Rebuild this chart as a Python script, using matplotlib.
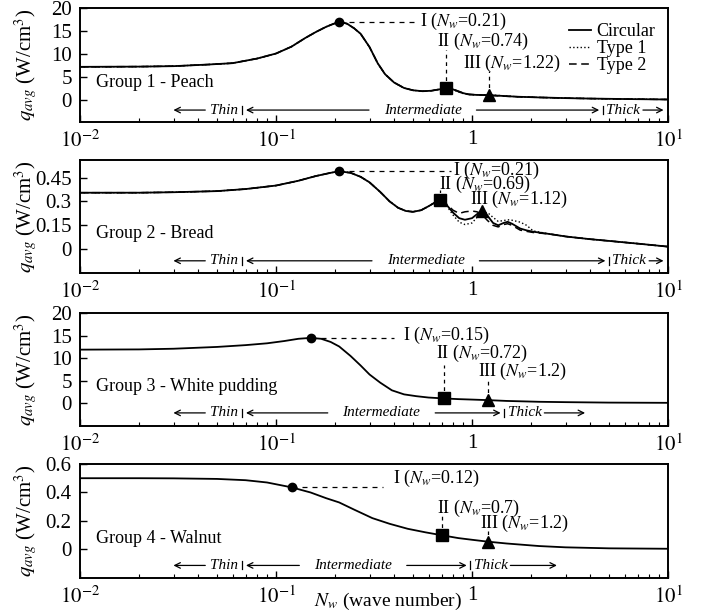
import numpy as np
import matplotlib
matplotlib.use("Agg")
import matplotlib.pyplot as plt

plt.rcParams['font.family'] = ['Liberation Serif', 'DejaVu Serif']
plt.rcParams['mathtext.fontset'] = 'stix'

# ---- data ----
# Group 1 - Peach
n1 = [0.01, 0.02, 0.03, 0.045, 0.06, 0.08, 0.1, 0.12, 0.14, 0.16, 0.18, 0.195, 0.21, 0.23, 0.25, 0.27,
      0.30, 0.33, 0.36, 0.40, 0.45, 0.50, 0.56, 0.62, 0.68, 0.74, 0.80, 0.88, 0.96, 1.05, 1.22, 1.4,
      1.7, 2.2, 3, 4, 6, 10]
q1_circ = [7.2, 7.25, 7.35, 7.7, 8.0, 9.0, 10.1, 11.6, 13.4, 14.8, 15.9, 16.5, 17.0, 16.6, 15.6, 14.4,
           11.5, 8.0, 5.6, 3.8, 2.6, 2.1, 1.9, 2.0, 2.3, 2.5, 2.3, 1.6, 1.2, 1.1, 1.05, 0.9,
           0.7, 0.55, 0.4, 0.3, 0.2, 0.1]
q1_t1 = [7.2, 7.25, 7.35, 7.7, 8.0, 9.0, 10.1, 11.6, 13.4, 14.8, 15.9, 16.5, 17.0, 16.6, 15.6, 14.4,
         11.5, 8.0, 5.6, 3.8, 2.6, 2.1, 1.9, 2.0, 2.3, 2.5, 2.25, 1.5, 1.15, 1.15, 1.1, 0.95,
         0.7, 0.55, 0.4, 0.3, 0.2, 0.1]
q1_t2 = [7.2, 7.25, 7.35, 7.7, 8.0, 9.0, 10.1, 11.6, 13.4, 14.8, 15.9, 16.5, 17.0, 16.6, 15.6, 14.4,
         11.5, 8.0, 5.6, 3.8, 2.6, 2.1, 1.9, 2.0, 2.3, 2.5, 2.35, 1.7, 1.25, 1.1, 1.0, 0.85,
         0.7, 0.55, 0.4, 0.3, 0.2, 0.1]

# Group 2 - Bread
n2 = [0.01, 0.02, 0.03, 0.05, 0.07, 0.1, 0.13, 0.16, 0.19, 0.21, 0.24, 0.27, 0.30, 0.34, 0.38, 0.42,
      0.46, 0.50, 0.55, 0.60, 0.65, 0.69, 0.74, 0.80, 0.86, 0.92, 1.0, 1.06, 1.12, 1.2, 1.28, 1.36,
      1.45, 1.52, 1.6, 1.76, 1.9, 2.05, 2.5, 3, 4, 5, 7, 10]
q2_circ = [0.355, 0.355, 0.358, 0.365, 0.378, 0.40, 0.43, 0.46, 0.48, 0.49, 0.48, 0.455, 0.42, 0.36, 0.30, 0.26,
           0.24, 0.235, 0.245, 0.27, 0.295, 0.31, 0.28, 0.23, 0.195, 0.185, 0.195, 0.22, 0.24, 0.21, 0.165, 0.15,
           0.165, 0.172, 0.16, 0.13, 0.118, 0.11, 0.095, 0.08, 0.063, 0.052, 0.035, 0.016]
q2_t1 = [0.355, 0.355, 0.358, 0.365, 0.378, 0.40, 0.43, 0.46, 0.48, 0.49, 0.48, 0.455, 0.42, 0.36, 0.30, 0.26,
         0.24, 0.235, 0.245, 0.27, 0.295, 0.31, 0.275, 0.215, 0.17, 0.155, 0.165, 0.20, 0.225, 0.23, 0.20, 0.175,
         0.18, 0.185, 0.182, 0.17, 0.15, 0.115, 0.095, 0.08, 0.063, 0.052, 0.035, 0.016]
q2_t2 = [0.355, 0.355, 0.358, 0.365, 0.378, 0.40, 0.43, 0.46, 0.48, 0.49, 0.48, 0.455, 0.42, 0.36, 0.30, 0.26,
         0.24, 0.235, 0.245, 0.27, 0.295, 0.31, 0.285, 0.245, 0.225, 0.235, 0.24, 0.235, 0.22, 0.18, 0.15, 0.14,
         0.155, 0.16, 0.15, 0.12, 0.112, 0.105, 0.095, 0.08, 0.063, 0.052, 0.035, 0.016]

# Group 3 - White pudding
n3 = [0.01, 0.02, 0.03, 0.05, 0.07, 0.09, 0.11, 0.13, 0.15, 0.17, 0.19, 0.21, 0.24, 0.27, 0.30, 0.34,
      0.39, 0.45, 0.52, 0.6, 0.72, 0.85, 1.0, 1.2, 1.5, 2.2, 3, 5, 10]
q3_circ = [11.9, 11.95, 12.1, 12.5, 12.9, 13.3, 13.8, 14.3, 14.5, 14.3, 13.6, 12.6, 10.5, 8.4, 6.4, 4.6,
           2.9, 2.0, 1.6, 1.3, 1.1, 0.95, 0.85, 0.73, 0.55, 0.36, 0.28, 0.18, 0.13]

# Group 4 - Walnut
n4 = [0.01, 0.02, 0.03, 0.05, 0.07, 0.09, 0.12, 0.15, 0.18, 0.21, 0.25, 0.31, 0.38, 0.47, 0.58, 0.7,
      0.85, 1.0, 1.2, 1.5, 2.2, 3, 5, 10]
q4_circ = [0.50, 0.50, 0.499, 0.495, 0.486, 0.47, 0.436, 0.40, 0.36, 0.33, 0.28, 0.22, 0.18, 0.145, 0.12, 0.10,
           0.08, 0.068, 0.055, 0.042, 0.024, 0.015, 0.008, 0.005]

titles = ['Group 1 - Peach', 'Group 2 - Bread', 'Group 3 - White pudding', 'Group 4 - Walnut']
# critical points I, II, III
pts_n = [[0.21, 0.74, 1.22], [0.21, 0.69, 1.12], [0.15, 0.72, 1.2], [0.12, 0.7, 1.2]]
pts_q = [[17.0, 2.5, 1.05], [0.49, 0.31, 0.24], [14.5, 1.1, 0.73], [0.436, 0.10, 0.055]]
pts_lbl = [['0.21', '0.74', '1.22'], ['0.21', '0.69', '1.12'], ['0.15', '0.72', '1.2'], ['0.12', '0.7', '1.2']]

# ---- layout ----
fig = plt.figure(figsize=(7.02, 6.15), dpi=100)
boxes = [[0.114, 0.8016, 0.8376, 0.1854],
         [0.114, 0.556, 0.8376, 0.1837],
         [0.114, 0.3073, 0.8376, 0.1837],
         [0.114, 0.0602, 0.8376, 0.1854]]
ylims = [(-4.8, 20), (-0.15, 0.56), (-5, 20), (-0.2, 0.6)]
yticks = [[0, 5, 10, 15, 20], [0, 0.15, 0.3, 0.45], [0, 5, 10, 15, 20], [0, 0.2, 0.4, 0.6]]
yticklbl = [['0', '5', '10', '15', '20'], ['0', '0.15', '0.3', '0.45'],
            ['0', '5', '10', '15', '20'], ['0', '0.2', '0.4', '0.6']]

# placement of annotations (x, y of text) per panel
txt_pos = [[(0.54, 17.0), (0.66, 12.7), (0.90, 8.0)],
           [(0.80, 0.495), (0.68, 0.41), (0.98, 0.31)],
           [(0.445, 15.0), (0.655, 11.1), (1.07, 7.0)],
           [(0.395, 0.5), (0.66, 0.29), (1.1, 0.186)]]
hline_end = [0.52, 0.78, 0.40, 0.35]
vline_top = [[None, 10.9, 6.2], [None, 0.375, 0.27], [None, 8.5, 5.6], [None, 0.245, 0.13]]

# regime arrows: y level, intermediate/thick boundary, intermediate text x, thick arrow end
reg_y = [-2.2, -0.073, -2.1, -0.112]
b_thick = [4.65, 5.0, 1.46, 0.98]
int_x = [0.56, 0.58, 0.345, 0.247]
thick_end = [9.8, 9.8, 3.9, 2.8]

curves = [(n1, [q1_circ, q1_t1, q1_t2]), (n2, [q2_circ, q2_t1, q2_t2]),
          (n3, [q3_circ]), (n4, [q4_circ])]
styles = [dict(ls='-', lw=1.3), dict(ls=':', lw=1.0), dict(ls=(0, (5, 3)), lw=1.1)]
names = ['Circular', 'Type 1', 'Type 2']

fs = 13
for i in range(4):
    ax = fig.add_axes(boxes[i])
    n, qs = curves[i]
    for j, q in enumerate(qs):
        ax.plot(n, q, color='black', label=names[j], **styles[j])
    ax.set_xscale('log')
    ax.set_xlim(0.01, 10)
    ax.set_ylim(*ylims[i])
    ax.set_yticks(yticks[i])
    ax.set_yticklabels(yticklbl[i])
    ax.set_xticks([0.01, 0.1, 1, 10])
    ax.set_xticklabels(['$10^{-2}$', '$10^{-1}$', '1', '$10^{1}$'])
    ax.tick_params(direction='in', labelsize=15, length=5, width=1)
    ax.tick_params(which='minor', direction='in', length=3, width=0.8)
    ax.tick_params(axis='x', pad=6)
    ax.tick_params(axis='y', pad=6)
    for s in ax.spines.values():
        s.set_linewidth(1.4)
    ax.set_ylabel(r'$q_{avg}$ (W/cm$^3$)', fontsize=15)
    ax.yaxis.set_label_coords(-0.068, 0.5)

    # group label
    yr = ylims[i][1] - ylims[i][0]
    ax.text(0.0121, ylims[i][0] + 0.35 * yr, titles[i], fontsize=fs, va='center', ha='left')

    # markers
    ax.plot(pts_n[i][0], pts_q[i][0], 'o', color='black', ms=6)
    ax.plot(pts_n[i][1], pts_q[i][1], 's', color='black', ms=8)
    ax.plot(pts_n[i][2], pts_q[i][2], '^', color='black', ms=8)

    # annotation guides and labels
    ax.plot([pts_n[i][0], hline_end[i]], [pts_q[i][0], pts_q[i][0]], color='black',
            lw=0.9, ls=(0, (4, 4)))
    for k in (1, 2):
        ax.plot([pts_n[i][k], pts_n[i][k]], [pts_q[i][k], vline_top[i][k]], color='black',
                lw=0.9, ls=(0, (3, 3)))
    roman = ['I', 'II', 'III']
    for k in range(3):
        tx, ty = txt_pos[i][k]
        ax.text(tx, ty, roman[k] + r' ($N_w$=' + pts_lbl[i][k] + ')', fontsize=fs,
                ha='left', va='center')

    # regime arrows
    y = reg_y[i]
    ap = dict(arrowstyle='->', color='black', lw=0.9)
    ax.annotate('', xy=(0.029, y), xytext=(0.045, y), arrowprops=ap)
    ax.text(0.054, y, 'Thin', style='italic', fontsize=11, ha='center', va='center')
    ax.plot([0.067, 0.067], [y - 0.035 * yr, y + 0.035 * yr], color='black', lw=0.9)
    ax.annotate('', xy=(0.068, y), xytext=(int_x[i] * 0.55, y), arrowprops=ap)
    ax.text(int_x[i], y, 'Intermediate', style='italic', fontsize=11, ha='center', va='center')
    ax.annotate('', xy=(b_thick[i] * 0.99, y), xytext=(int_x[i] * 1.82, y), arrowprops=ap)
    ax.plot([b_thick[i], b_thick[i]], [y - 0.035 * yr, y + 0.035 * yr], color='black', lw=0.9)
    ax.text(b_thick[i] * 1.04, y, 'Thick', style='italic', fontsize=11, ha='left', va='center')
    ax.annotate('', xy=(thick_end[i], y), xytext=(b_thick[i] * 1.55, y), arrowprops=ap)

    if i == 0:
        ax.legend(loc='upper right', frameon=False, fontsize=13, handlelength=1.2,
                  handletextpad=0.3, labelspacing=0.0, borderaxespad=0.3,
                  bbox_to_anchor=(1.0, 0.98))

fig.text(388 / 702, 1 - 601 / 615, r'$N_w$ (wave number)', fontsize=14, ha='center', va='center')

fig.savefig('out.png', dpi=100)
